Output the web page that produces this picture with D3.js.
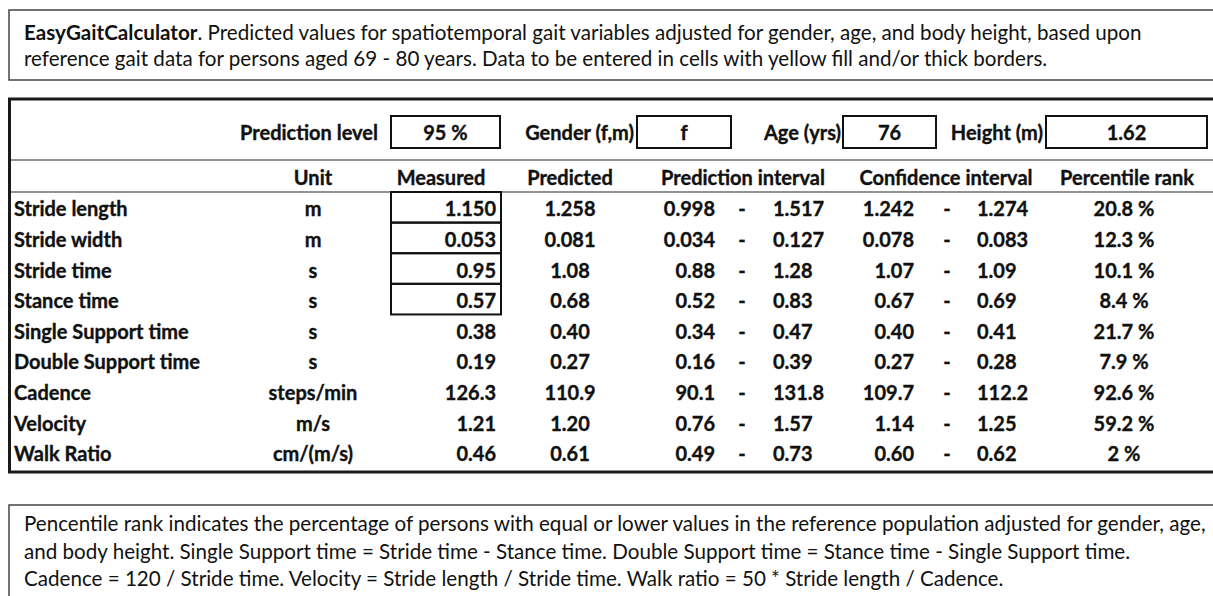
<!DOCTYPE html>
<html>
<head>
<meta charset="utf-8">
<script src="https://cdn.jsdelivr.net/npm/d3@7"></script>
<style>
  body { margin: 0; background: #fff; }
  svg { display: block; font-family: Lato, 'Open Sans', sans-serif; }
</style>
</head>
<body>
<div class="canvas"></div>
<script>
// table content
const rowLabels = [
  'Stride length', 'Stride width', 'Stride time', 'Stance time',
  'Single Support time', 'Double Support time', 'Cadence', 'Velocity', 'Walk Ratio',
];
const units = ['m', 'm', 's', 's', 's', 's', 'steps/min', 'm/s', 'cm/(m/s)'];
const measured = ['1.150', '0.053', '0.95', '0.57', '0.38', '0.19', '126.3', '1.21', '0.46'];
const predicted = ['1.258', '0.081', '1.08', '0.68', '0.40', '0.27', '110.9', '1.20', '0.61'];
const piLow = ['0.998', '0.034', '0.88', '0.52', '0.34', '0.16', '90.1', '0.76', '0.49'];
const piHigh = ['1.517', '0.127', '1.28', '0.83', '0.47', '0.39', '131.8', '1.57', '0.73'];
const ciLow = ['1.242', '0.078', '1.07', '0.67', '0.40', '0.27', '109.7', '1.14', '0.60'];
const ciHigh = ['1.274', '0.083', '1.09', '0.69', '0.41', '0.28', '112.2', '1.25', '0.62'];
const percentile = ['20.8 %', '12.3 %', '10.1 %', '8.4 %', '21.7 %', '7.9 %', '92.6 %', '59.2 %', '2 %'];
const inputRows = 4; // rows with a measured input box

const paramLabels = ['Prediction level', 'Gender (f,m)', 'Age (yrs)', 'Height (m)'];
const paramValues = ['95 %', 'f', '76', '1.62'];

const headers = ['Unit', 'Measured', 'Predicted', 'Prediction interval', 'Confidence interval', 'Percentile rank'];

const introLines = [
  [['EasyGaitCalculator', true], ['. Predicted values for spatiotemporal gait variables adjusted for gender, age, and body height, based upon', false]],
  [['reference gait data for persons aged 69 - 80 years. Data to be entered in cells with yellow fill and/or thick borders.', false]],
];
const noteLines = [
  'Pencentile rank indicates the percentage of persons with equal or lower values in the reference population adjusted for gender, age,',
  'and body height. Single Support time = Stride time - Stance time. Double Support time = Stance time - Single Support time.',
  'Cadence = 120 / Stride time. Velocity = Stride length / Stride time. Walk ratio = 50 * Stride length / Cadence.',
];

// !-------------------------------layout
const dims = {
  width: 1213,
  height: 596,
  fontSize: 20,
  noteSize: 20.6,
  ink: '#111',
};

const svg = d3
  .select('.canvas')
  .append('svg')
  .attr('width', dims.width)
  .attr('height', dims.height);

// intro box
svg.append('rect')
  .attr('x', 9).attr('y', 10)
  .attr('width', 1230).attr('height', 70)
  .attr('fill', 'none').attr('stroke', '#444').attr('stroke-width', 1.5);

const introY = d3.scalePoint().domain(d3.range(introLines.length)).range([32, 58]);
introLines.forEach((parts, i) => {
  const t = svg.append('text')
    .attr('x', 24).attr('y', introY(i))
    .attr('dominant-baseline', 'central')
    .attr('font-size', dims.noteSize)
    .attr('fill', dims.ink);
  parts.forEach(([s, bold]) => {
    t.append('tspan').attr('font-weight', bold ? 700 : 400).text(s);
  });
});

// main table frame
svg.append('rect')
  .attr('x', 9.5).attr('y', 99)
  .attr('width', 1230).attr('height', 373)
  .attr('fill', 'none').attr('stroke', '#1a1a1a').attr('stroke-width', 3);

[160, 192].forEach((y) => {
  svg.append('line')
    .attr('x1', 11).attr('x2', dims.width)
    .attr('y1', y).attr('y2', y)
    .attr('stroke', '#6e6e6e').attr('stroke-width', 1.5);
});

const g = svg.append('g')
  .attr('font-size', dims.fontSize)
  .attr('font-weight', 700)
  .attr('fill', dims.ink)
  .attr('stroke', dims.ink)
  .attr('stroke-width', 0.35);

// parameter row
const paramBoxes = [
  { labelEnd: 378, x0: 391, x1: 500 },
  { labelEnd: 634, x0: 637, x1: 731 },
  { labelEnd: 841, x0: 843, x1: 936 },
  { labelEnd: 1043, x0: 1046, x1: 1207 },
];
const paramY = 132;

const params = g.selectAll('g.param')
  .data(paramLabels.map((label, i) => ({ label, value: paramValues[i], box: paramBoxes[i] })))
  .enter()
  .append('g')
  .attr('class', 'param');

params.append('rect')
  .attr('x', (d) => d.box.x0).attr('y', 116)
  .attr('width', (d) => d.box.x1 - d.box.x0).attr('height', 32)
  .attr('fill', 'none').attr('stroke', '#111').attr('stroke-width', 2);

params.append('text')
  .attr('x', (d) => d.box.labelEnd).attr('y', paramY)
  .attr('text-anchor', 'end').attr('dominant-baseline', 'central')
  .text((d) => d.label);

params.append('text')
  .attr('x', (d) => (d.box.x0 + d.box.x1) / 2).attr('y', paramY)
  .attr('text-anchor', 'middle').attr('dominant-baseline', 'central')
  .text((d) => d.value);

// header row
const headerX = [313, 441, 570, 743, 946, 1127];
g.selectAll('text.header')
  .data(headers)
  .enter()
  .append('text')
  .attr('class', 'header')
  .attr('x', (d, i) => headerX[i]).attr('y', 177)
  .attr('text-anchor', 'middle').attr('dominant-baseline', 'central')
  .text((d) => d);

// data rows
const y = d3.scaleBand().domain(rowLabels).range([192, 467.5]);

// measured input boxes
g.selectAll('rect.input')
  .data(rowLabels.slice(0, inputRows))
  .enter()
  .append('rect')
  .attr('class', 'input')
  .attr('x', 391).attr('y', (d) => y(d))
  .attr('width', 110).attr('height', y.bandwidth())
  .attr('fill', 'none').attr('stroke', '#111').attr('stroke-width', 2);

const columns = [
  { values: rowLabels, x: 14, anchor: 'start' },
  { values: units, x: 313, anchor: 'middle' },
  { values: measured, x: 496, anchor: 'end' },
  { values: predicted, x: 570, anchor: 'middle' },
  { values: piLow, x: 715, anchor: 'end' },
  { values: rowLabels.map(() => '-'), x: 742, anchor: 'middle' },
  { values: piHigh, x: 773, anchor: 'start' },
  { values: ciLow, x: 914, anchor: 'end' },
  { values: rowLabels.map(() => '-'), x: 947, anchor: 'middle' },
  { values: ciHigh, x: 977, anchor: 'start' },
  { values: percentile, x: 1124, anchor: 'middle' },
];

columns.forEach((col) => {
  g.append('g')
    .selectAll('text')
    .data(col.values)
    .enter()
    .append('text')
    .attr('x', col.x)
    .attr('y', (d, i) => y(rowLabels[i]) + y.bandwidth() / 2 + 1)
    .attr('text-anchor', col.anchor)
    .attr('dominant-baseline', 'central')
    .text((d) => d);
});

// note box
svg.append('rect')
  .attr('x', 9).attr('y', 505)
  .attr('width', 1230).attr('height', 120)
  .attr('fill', 'none').attr('stroke', '#444').attr('stroke-width', 1.5);

const noteY = d3.scalePoint().domain(d3.range(noteLines.length)).range([523, 578]);
svg.append('g')
  .selectAll('text')
  .data(noteLines)
  .enter()
  .append('text')
  .attr('x', 24)
  .attr('y', (d, i) => noteY(i))
  .attr('dominant-baseline', 'central')
  .attr('font-size', dims.noteSize)
  .attr('fill', dims.ink)
  .text((d) => d);
</script>
</body>
</html>
